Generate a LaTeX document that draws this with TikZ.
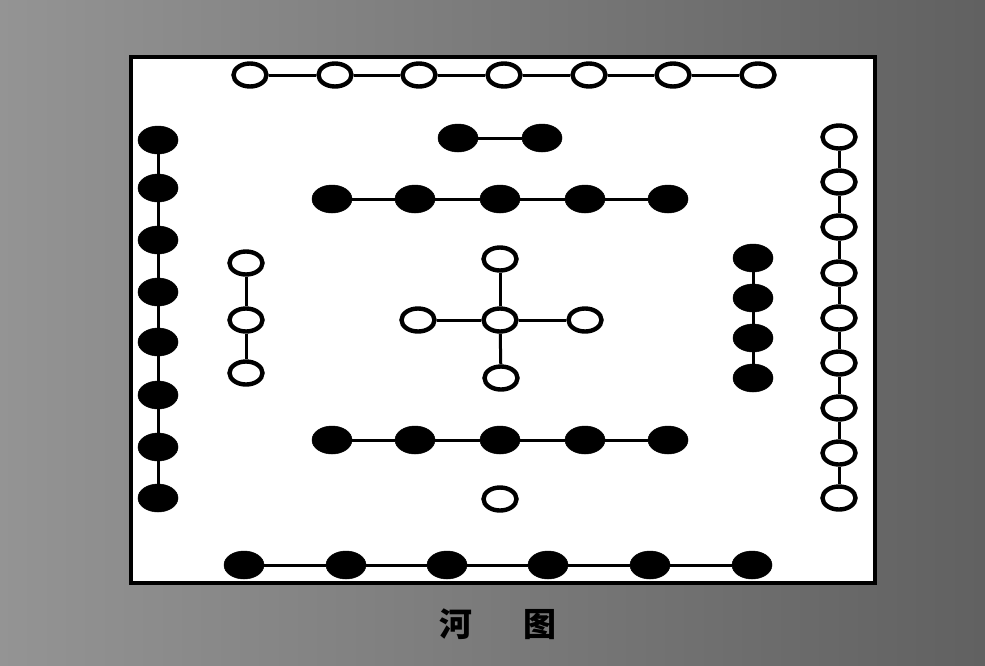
\documentclass[tikz,border=0pt]{standalone}
\usepackage{fontspec}
\newfontfamily\cjk{Noto Sans CJK SC}
\usetikzlibrary{shapes.geometric}
\begin{document}
\begin{tikzpicture}[x=1pt,y=-1pt,
  yang/.style={ellipse,draw=black,line width=4.4pt,fill=white,minimum width=33pt,minimum height=23pt,inner sep=0pt},
  yin/.style={ellipse,draw=black,fill=black,line width=0.5pt,minimum width=40pt,minimum height=28pt,inner sep=0pt},
  link/.style={line width=3pt,draw=black},
  frame/.style={line width=4.5pt,draw=black,fill=white},
  caption/.style={font=\cjk\bfseries\fontsize{33}{36}\selectfont,text=black,inner sep=0pt}]
\useasboundingbox (0,0) rectangle (985,665);
\shade[left color=black!42,right color=black!62] (0,0) rectangle (985,665);
\path[frame] (131,57) rectangle (875,583);
% top row: 7 white
\foreach \i/\x in {1/250,2/335,3/419,4/504,5/589,6/673,7/758}
  \node[yang] (T\i) at (\x,75) {};
\foreach \a/\b in {1/2,2/3,3/4,4/5,5/6,6/7} \draw[link] (T\a) -- (T\b);
% left column: 8 black
\foreach \i/\y in {1/140,2/188,3/240,4/292,5/342,6/395,7/447,8/498}
  \node[yin] (L\i) at (158,\y) {};
\foreach \a/\b in {1/2,2/3,3/4,4/5,5/6,6/7,7/8} \draw[link] (L\a) -- (L\b);
% pair of black
\node[yin] (P1) at (458,138) {};
\node[yin] (P2) at (542,138) {};
\draw[link] (P1) -- (P2);
% upper row: 5 black
\foreach \i/\x in {1/332,2/415,3/500,4/585,5/668}
  \node[yin] (U\i) at (\x,199) {};
\foreach \a/\b in {1/2,2/3,3/4,4/5} \draw[link] (U\a) -- (U\b);
% left small: 3 white
\foreach \i/\y in {1/263,2/320,3/373}
  \node[yang] (S\i) at (246,\y) {};
\foreach \a/\b in {1/2,2/3} \draw[link] (S\a) -- (S\b);
% center cross: 5 white
\node[yang] (C0) at (500,320) {};
\node[yang] (CN) at (500,259) {};
\node[yang] (CS) at (501,378) {};
\node[yang] (CW) at (418,320) {};
\node[yang] (CE) at (585,320) {};
\foreach \n in {CN,CS,CW,CE} \draw[link] (C0) -- (\n);
% right small: 4 black
\foreach \i/\y in {1/258,2/298,3/338,4/378}
  \node[yin] (R\i) at (753,\y) {};
\foreach \a/\b in {1/2,2/3,3/4} \draw[link] (R\a) -- (R\b);
% right column: 9 white
\foreach \i/\y in {1/137,2/182,3/227,4/273,5/318,6/363,7/408,8/453,9/498}
  \node[yang] (W\i) at (839,\y) {};
\foreach \a/\b in {1/2,2/3,3/4,4/5,5/6,6/7,7/8,8/9} \draw[link] (W\a) -- (W\b);
% lower row: 5 black
\foreach \i/\x in {1/332,2/415,3/500,4/585,5/668}
  \node[yin] (D\i) at (\x,440) {};
\foreach \a/\b in {1/2,2/3,3/4,4/5} \draw[link] (D\a) -- (D\b);
% single white
\node[yang] (O1) at (500,499) {};
% bottom row: 6 black
\foreach \i/\x in {1/244,2/346,3/447,4/548,5/650,6/752}
  \node[yin] (B\i) at (\x,565) {};
\foreach \a/\b in {1/2,2/3,3/4,4/5,5/6} \draw[link] (B\a) -- (B\b);
% caption
\node[caption] (cap) at (498,624) {河\hspace{52pt}图};
\end{tikzpicture}
\end{document}
